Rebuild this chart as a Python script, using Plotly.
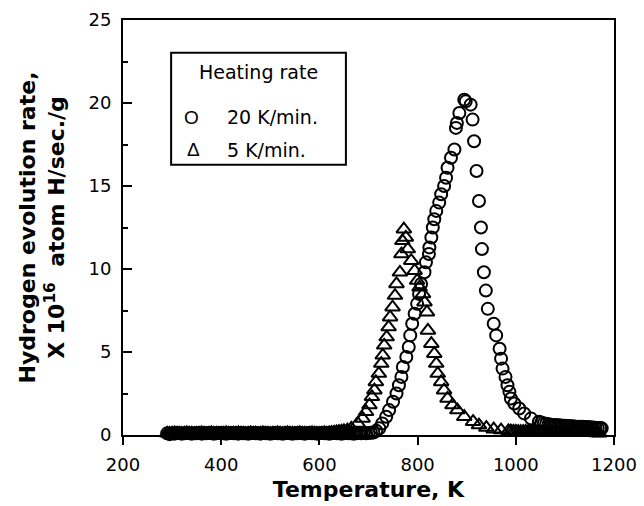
import plotly.graph_objects as go

# ---- data ----
# 20 K/min heating rate (open circles)
temp_20 = [290, 295, 300, 305, 310, 315, 320, 325, 330, 335, 340, 345,
           350, 355, 360, 365, 370, 375, 380, 385, 390, 395, 400, 405,
           410, 415, 420, 425, 430, 435, 440, 445, 450, 455, 460, 465,
           470, 475, 480, 485, 490, 495, 500, 505, 510, 515, 520, 525,
           530, 535, 540, 545, 550, 555, 560, 565, 570, 575, 580, 585,
           590, 595, 600, 605, 610, 615, 620, 625, 630, 635, 640, 645,
           650, 655, 660, 665, 670, 675, 680, 685, 690, 695, 700, 705,
           710, 716, 722, 728, 736, 742, 750, 757, 762, 767, 770, 777, 782, 785, 789,
           794, 799, 803, 807, 814, 817, 823, 824, 828, 831, 834, 838, 844, 848, 854,
           858, 861, 868, 875, 878, 880, 885, 895, 898, 908, 912, 915, 920, 925, 929,
           931, 935, 939, 943, 955, 960, 967, 970, 973, 979, 983, 987, 990, 997, 1007,
           1017, 1031, 1047,
           1052, 1057, 1062, 1067, 1072, 1077, 1082, 1087, 1092, 1097, 1102, 1107, 1112,
           1117, 1122, 1127, 1132, 1137, 1142, 1147, 1152, 1157, 1162, 1167, 1172, 1175]
rate_20 = [0.10, 0.05, 0.10, 0.08, 0.12, 0.10, 0.08, 0.10, 0.12, 0.10, 0.08, 0.10,
           0.10, 0.12, 0.08, 0.10, 0.10, 0.12, 0.10, 0.08, 0.10, 0.12, 0.10, 0.10,
           0.08, 0.10, 0.12, 0.10, 0.10, 0.08, 0.12, 0.10, 0.10, 0.08, 0.10, 0.12,
           0.10, 0.10, 0.08, 0.12, 0.10, 0.10, 0.08, 0.10, 0.12, 0.10, 0.10, 0.08,
           0.10, 0.12, 0.10, 0.08, 0.10, 0.10, 0.12, 0.10, 0.08, 0.10, 0.12, 0.10,
           0.10, 0.08, 0.10, 0.12, 0.10, 0.10, 0.08, 0.10, 0.12, 0.10, 0.10, 0.08,
           0.10, 0.12, 0.10, 0.10, 0.08, 0.10, 0.12, 0.10, 0.12, 0.10, 0.12, 0.14,
           0.15, 0.25, 0.4, 0.7, 1.1, 1.5, 2.0, 2.5, 3.0, 3.5, 4.1, 4.7, 5.3, 6.0, 6.7,
           7.3, 7.9, 8.5, 9.1, 9.8, 10.4, 10.9, 11.3, 11.9, 12.5, 13.0, 13.5, 14.0, 14.5, 15.0,
           15.5, 16.1, 16.7, 17.2, 18.5, 18.8, 19.4, 20.2, 20.1, 19.9, 19.0, 17.7, 15.9, 14.1, 12.5,
           11.2, 9.8, 8.7, 7.6, 6.7, 6.0, 5.2, 4.6, 4.0, 3.5, 3.0, 2.6, 2.2, 1.9, 1.6,
           1.3, 1.0, 0.8,
           0.75, 0.70, 0.68, 0.65, 0.62, 0.60, 0.60, 0.58, 0.57, 0.55, 0.55, 0.54, 0.52,
           0.52, 0.50, 0.50, 0.50, 0.50, 0.48, 0.48, 0.46, 0.45, 0.44, 0.42, 0.42, 0.40]

# 5 K/min heating rate (open triangles)
temp_5 = [290, 295, 300, 305, 310, 315, 320, 325, 330, 335, 340, 345,
          350, 355, 360, 365, 370, 375, 380, 385, 390, 395, 400, 405,
          410, 415, 420, 425, 430, 435, 440, 445, 450, 455, 460, 465,
          470, 475, 480, 485, 490, 495, 500, 505, 510, 515, 520, 525,
          530, 535, 540, 545, 550, 555, 560, 565, 570, 575, 580, 585,
          590, 595, 600, 605, 610, 615, 620, 625, 630, 635, 640, 645, 650,
          657, 665, 678, 688, 695, 702, 707, 712, 715, 721, 726, 729, 732, 737, 741, 744,
          749, 754, 757, 764, 767, 769, 772, 776, 780, 787, 794, 799, 804, 811, 814,
          819, 821, 828, 834, 838, 841, 848, 854, 861, 871, 881, 895, 913, 925, 940,
          955, 970, 985,
          990, 995, 1000, 1005, 1010, 1015, 1020, 1025, 1030, 1035, 1040, 1045,
          1050, 1055, 1060, 1065, 1070, 1075, 1080, 1085, 1090, 1095, 1100, 1105,
          1110, 1115, 1120, 1125, 1130, 1135, 1140, 1145, 1150, 1155, 1160, 1165, 1170]
rate_5 = [0.10, 0.08, 0.10, 0.12, 0.10, 0.10, 0.08, 0.10, 0.12, 0.10, 0.10, 0.08,
          0.10, 0.10, 0.12, 0.10, 0.08, 0.10, 0.12, 0.10, 0.10, 0.08, 0.10, 0.10,
          0.12, 0.10, 0.08, 0.10, 0.10, 0.12, 0.10, 0.10, 0.08, 0.10, 0.12, 0.10,
          0.10, 0.08, 0.10, 0.12, 0.10, 0.10, 0.08, 0.10, 0.10, 0.12, 0.10, 0.08,
          0.10, 0.12, 0.10, 0.10, 0.08, 0.10, 0.12, 0.10, 0.10, 0.08, 0.10, 0.12,
          0.10, 0.10, 0.08, 0.10, 0.12, 0.10, 0.12, 0.14, 0.15, 0.18, 0.20, 0.22, 0.25,
          0.3, 0.4, 0.7, 1.0, 1.4, 1.8, 2.3, 2.7, 3.2, 3.7, 4.3, 4.8, 5.4, 5.9, 6.5, 7.1,
          7.7, 8.4, 9.1, 9.8, 10.9, 11.7, 12.4, 11.9, 11.2, 10.5, 9.9, 9.3, 8.9, 8.5, 8.0,
          7.4, 6.3, 5.5, 4.9, 4.3, 3.7, 3.2, 2.7, 2.2, 1.8, 1.5, 1.1, 0.8, 0.6, 0.45,
          0.35, 0.3, 0.25,
          0.24, 0.22, 0.22, 0.20, 0.20, 0.20, 0.22, 0.20, 0.20, 0.18, 0.20, 0.20,
          0.22, 0.20, 0.20, 0.18, 0.20, 0.20, 0.22, 0.20, 0.18, 0.20, 0.20, 0.20,
          0.18, 0.20, 0.20, 0.22, 0.20, 0.18, 0.20, 0.18, 0.20, 0.16, 0.15, 0.12, 0.10]

series_names = ["20 K/min.", "5 K/min."]
legend_title = "Heating rate"
x_title = "Temperature, K"
y_title = "Hydrogen evolution rate,<br>X 10<sup>16</sup>  atom H/sec./g"

fig = go.Figure()
fig.add_trace(go.Scatter(
    x=temp_20, y=rate_20, mode="markers", name=series_names[0],
    marker=dict(symbol="circle-open", size=12, color="black", line=dict(width=2, color="black")),
    cliponaxis=False, showlegend=False))
fig.add_trace(go.Scatter(
    x=temp_5, y=rate_5, mode="markers", name=series_names[1],
    marker=dict(symbol="triangle-up-open", size=13, color="black", line=dict(width=2, color="black")),
    cliponaxis=False, showlegend=False))

# legend box drawn as text, like the original
leg_font = dict(family="DejaVu Sans, sans-serif", size=19, color="black")
sym_font = dict(family="Liberation Sans, Arial, sans-serif", size=19, color="black")
fig.add_shape(type="rect", xref="paper", yref="paper", x0=0.098, x1=0.454, y0=0.651, y1=0.921,
              line=dict(color="black", width=2), fillcolor="white")
fig.add_annotation(xref="paper", yref="paper", x=0.275, y=0.875, text=legend_title,
                   showarrow=False, font=leg_font, xanchor="center", yanchor="middle")
fig.add_annotation(xref="paper", yref="paper", x=0.1405, y=0.766, text="O",
                   showarrow=False, font=sym_font, xanchor="center", yanchor="middle")
fig.add_annotation(xref="paper", yref="paper", x=0.2077, y=0.766, text=series_names[0],
                   showarrow=False, font=leg_font, xanchor="left", yanchor="middle")
fig.add_annotation(xref="paper", yref="paper", x=0.1446, y=0.687, text="\u0394",
                   showarrow=False, font=sym_font, xanchor="center", yanchor="middle")
fig.add_annotation(xref="paper", yref="paper", x=0.2077, y=0.687, text=series_names[1],
                   showarrow=False, font=leg_font, xanchor="left", yanchor="middle")

tick_font = dict(family="DejaVu Sans, sans-serif", size=18, color="black")
title_font = dict(family="DejaVu Sans, sans-serif", size=22, color="black", weight="bold")

fig.update_xaxes(range=[200, 1200], tick0=200, dtick=200, ticks="outside", ticklen=8, tickwidth=2,
                 tickcolor="black", showline=True, linecolor="black", linewidth=2, mirror=True,
                 showgrid=False, zeroline=False, tickfont=tick_font, ticklabelstandoff=4,
                 automargin=False,
                 title=dict(text=x_title, font=title_font, standoff=8))
fig.update_yaxes(range=[0, 25], tick0=0, dtick=5, ticks="inside", ticklen=9, tickwidth=2,
                 tickcolor="black", showline=True, linecolor="black", linewidth=2, mirror=True,
                 showgrid=False, zeroline=False, tickfont=tick_font, ticklabelstandoff=6,
                 automargin=False,
                 minor=dict(dtick=2.5, ticks="inside", ticklen=5, tickwidth=2, tickcolor="black"),
                 title=dict(text=y_title, font=title_font, standoff=18))

fig.update_layout(width=644, height=506, margin=dict(l=123, r=30, t=20, b=71),
                  plot_bgcolor="white", paper_bgcolor="white", showlegend=False)

fig.write_html("out.html")
